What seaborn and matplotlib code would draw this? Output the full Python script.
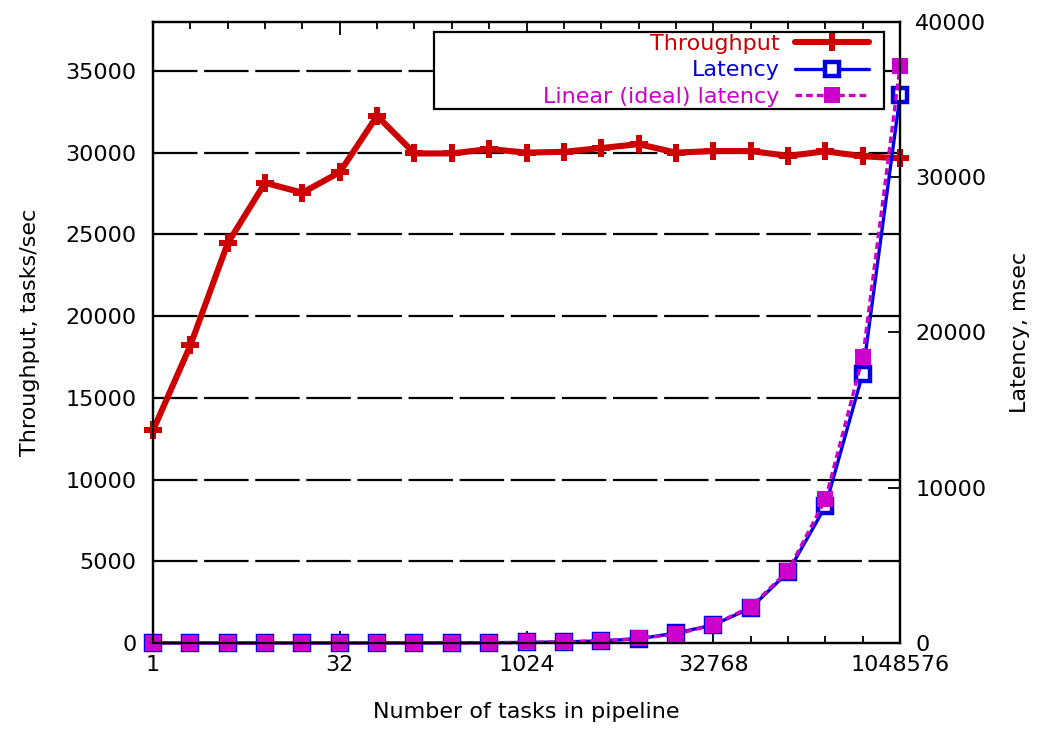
import numpy as np
import pandas as pd
import seaborn as sns
import matplotlib.pyplot as plt
from matplotlib.patches import Rectangle

tasks = [1, 2, 4, 8, 16, 32, 64, 128, 256, 512, 1024, 2048, 4096, 8192,
         16384, 32768, 65536, 131072, 262144, 524288, 1048576]
throughput = [13000, 18200, 24450, 28150, 27550, 28800, 32250, 29950, 29950, 30220, 30000,
              30050, 30280, 30520, 30000, 30100, 30100, 29800, 30080, 29780, 29650]
latency = [0.08, 0.11, 0.17, 0.28, 0.58, 1.1, 2.0, 4.3, 8.5, 17, 34, 68, 135, 268,
           640, 1160, 2250, 4560, 8800, 17350, 35300]
ideal_latency = [0.035, 0.07, 0.14, 0.28, 0.56, 1.1, 2.3, 4.5, 9.0, 18, 36, 72, 145, 289,
                 560, 1170, 2340, 4650, 9250, 18400, 37150]
major_ticks = [1, 32, 1024, 32768, 1048576]
left_ticks = [0, 5000, 10000, 15000, 20000, 25000, 30000, 35000]
right_ticks = [0, 10000, 20000, 30000, 40000]

df = pd.DataFrame({"tasks": tasks, "throughput": throughput,
                   "latency": latency, "ideal": ideal_latency})

sns.set_style("white")
plt.rcParams["font.family"] = ["DejaVu Sans"]
plt.rcParams["font.size"] = 16
for k in ["text.color", "axes.labelcolor", "xtick.color", "ytick.color"]:
    plt.rcParams[k] = "black"

red = "#cc0000"
blue = "#0000e0"
magenta = "#cc00cc"

fig = plt.figure(figsize=(10.37, 7.29), dpi=100)
ax = fig.add_axes([0.1475, 0.118, 0.7205, 0.852])
ax2 = ax.twinx()

sns.lineplot(data=df, x="tasks", y="throughput", ax=ax, color=red, lw=4.4,
             marker="P", markersize=13, markeredgewidth=0, clip_on=False,
             label="Throughput", legend=False, zorder=5)
sns.lineplot(data=df, x="tasks", y="latency", ax=ax2, color=blue, lw=2.4,
             marker="s", markersize=10.5, markerfacecolor="white", markeredgecolor=blue,
             markeredgewidth=3.2, clip_on=False, label="Latency", legend=False)
sns.lineplot(data=df, x="tasks", y="ideal", ax=ax2, color=magenta, lw=2.4,
             linestyle=(0, (2, 1.2)), marker="s", markersize=11.5, markeredgewidth=0,
             clip_on=False, label="Linear (ideal) latency", legend=False)

ax.set_xscale("log", base=2)
ax.set_xlim(1, 1048576)
ax.set_ylim(0, 38000)
ax2.set_ylim(0, 40000)
ax.set_xticks(major_ticks)
ax.set_xticklabels([str(t) for t in major_ticks])
ax.set_xticks(tasks, minor=True)
ax.xaxis.set_minor_formatter(plt.NullFormatter())
ax.set_yticks(left_ticks)
ax.set_yticklabels([str(t) for t in left_ticks])
ax2.set_yticks(right_ticks)
ax2.set_yticklabels([str(t) for t in right_ticks])

ax.tick_params(axis="x", which="both", direction="in", top=True, bottom=True, pad=9)
ax.tick_params(axis="x", which="major", length=9, width=1.3)
ax.tick_params(axis="x", which="minor", length=5, width=1.3)
ax.tick_params(axis="y", direction="in", length=9, width=1.3, left=True, right=False, pad=12)
ax2.tick_params(axis="y", direction="in", length=9, width=1.3, right=True, pad=11)

for y in left_ticks[1:]:
    ax.axhline(y, color="black", lw=1.6, linestyle=(0, (20, 3)), zorder=1)

for a in (ax, ax2):
    for s in a.spines.values():
        s.set_color("black")
        s.set_linewidth(1.6)
ax2.patch.set_visible(False)

ax.set_xlabel("Number of tasks in pipeline", labelpad=19)
ax.set_ylabel("Throughput, tasks/sec", labelpad=18)
ax2.set_ylabel("Latency, msec", labelpad=17)

# key box (gnuplot-style, wider than its entries)
ax2.add_patch(Rectangle((0.376, 0.860), 0.6026, 0.124, transform=ax2.transAxes,
                        facecolor="white", edgecolor="black", lw=1.6, zorder=9,
                        clip_on=False))
handles = ax.get_lines()[:1] + ax2.get_lines()[:2]
leg = ax2.legend(handles, ["Throughput", "Latency", "Linear (ideal) latency"],
                 loc="upper right", bbox_to_anchor=(0.958, 0.981), markerfirst=False,
                 frameon=False, handlelength=3.3, borderpad=0, labelspacing=0.3,
                 handletextpad=0.7, borderaxespad=0, fontsize=16)
leg.set_zorder(10)
for text, c in zip(leg.get_texts(), [red, blue, magenta]):
    text.set_color(c)

fig.savefig("out.png", dpi=100)
